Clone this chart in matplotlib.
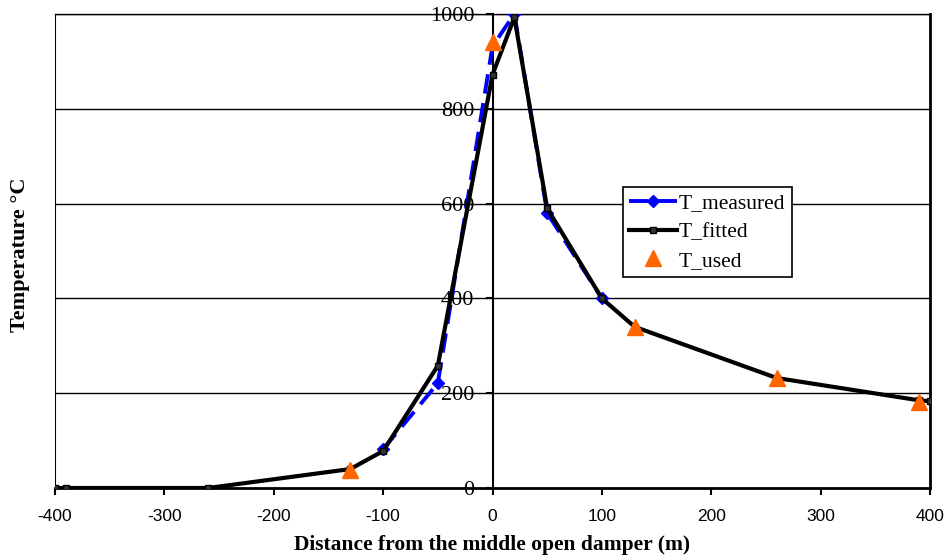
import matplotlib
matplotlib.use("Agg")
import matplotlib.pyplot as plt

# Data
x_measured = [-100, -50, 0, 20, 50, 100]
t_measured = [82, 221, 932, 1000, 580, 400]

x_fitted = [-400, -390, -260, -130, -100, -50, 0, 20, 50, 100, 130, 260, 390, 400]
t_fitted = [0, 0, 0, 40, 78, 258, 872, 993, 590, 400, 340, 232, 185, 183]

x_used = [-130, 0, 130, 260, 390]
t_used = [38, 940, 340, 232, 181]

x_ticks = [-400, -300, -200, -100, 0, 100, 200, 300, 400]
y_ticks = [0, 200, 400, 600, 800, 1000]

plt.rcParams['font.family'] = ['Liberation Serif', 'DejaVu Serif']

fig = plt.figure(figsize=(9.47, 5.59), dpi=100)
ax = fig.add_axes([55/947, 1-488/559, 875/947, 474/559])

ax.set_xlim(x_ticks[0], x_ticks[-1])
ax.set_ylim(y_ticks[0], y_ticks[-1])

# horizontal gridlines
for yv in y_ticks[1:]:
    ax.axhline(yv, color='black', lw=1.0, zorder=1)
# left frame line
ax.axvline(ax.get_xlim()[0], color='black', lw=1.5, zorder=1)

ax.plot(x_measured, t_measured, color='#0000ff', lw=2.8, ls=(0, (5, 2.5)),
        marker='D', ms=6, mfc='#0000ff', mec='#0000ff',
        markevery=[0, 1, 3, 4, 5], label='T_measured', zorder=3)
ax.plot(x_fitted, t_fitted, color='black', lw=3, marker='s', ms=4.5,
        mfc='#333333', mec='black', mew=1, label='T_fitted', zorder=4)
ax.plot(x_used, t_used, ls='none', marker='^', ms=12, color='#ff6600',
        mec='#ff6600', label='T_used', zorder=5)

# axes / spines
ax.spines['left'].set_position(('data', 0))
ax.spines['left'].set_linewidth(1.5)
ax.spines['bottom'].set_linewidth(2)
ax.spines['right'].set_linewidth(2)
ax.spines['top'].set_linewidth(1.0)
for s in ax.spines.values():
    s.set_zorder(2)

ax.set_xticks(x_ticks)
ax.set_xticklabels([str(v) for v in x_ticks], family=['Liberation Sans'], fontsize=12.5)
ax.set_yticks(y_ticks)
ax.set_yticklabels([str(v) for v in y_ticks], fontsize=16)
ax.tick_params(axis='both', direction='out', length=5, width=1.5)
ax.tick_params(axis='x', pad=10)
ax.tick_params(axis='y', pad=8)

ax.set_xlabel('Distance from the middle open damper (m)', fontsize=15.5,
              fontweight='bold', labelpad=8)
fig.text(20/947, 1-255/559, 'Temperature °C', rotation=90, fontsize=16,
         fontweight='bold', ha='center', va='center')

leg = ax.legend(loc='upper left', bbox_to_anchor=((623-55)/875, (488-187)/474),
                fontsize=15.5, frameon=True, fancybox=False, edgecolor='black',
                framealpha=1, borderpad=0.3, labelspacing=0.4,
                handlelength=2.2, handletextpad=0.1, borderaxespad=0)
leg.get_frame().set_linewidth(1.2)
leg.set_zorder(10)

fig.savefig('out.png', dpi=100)
